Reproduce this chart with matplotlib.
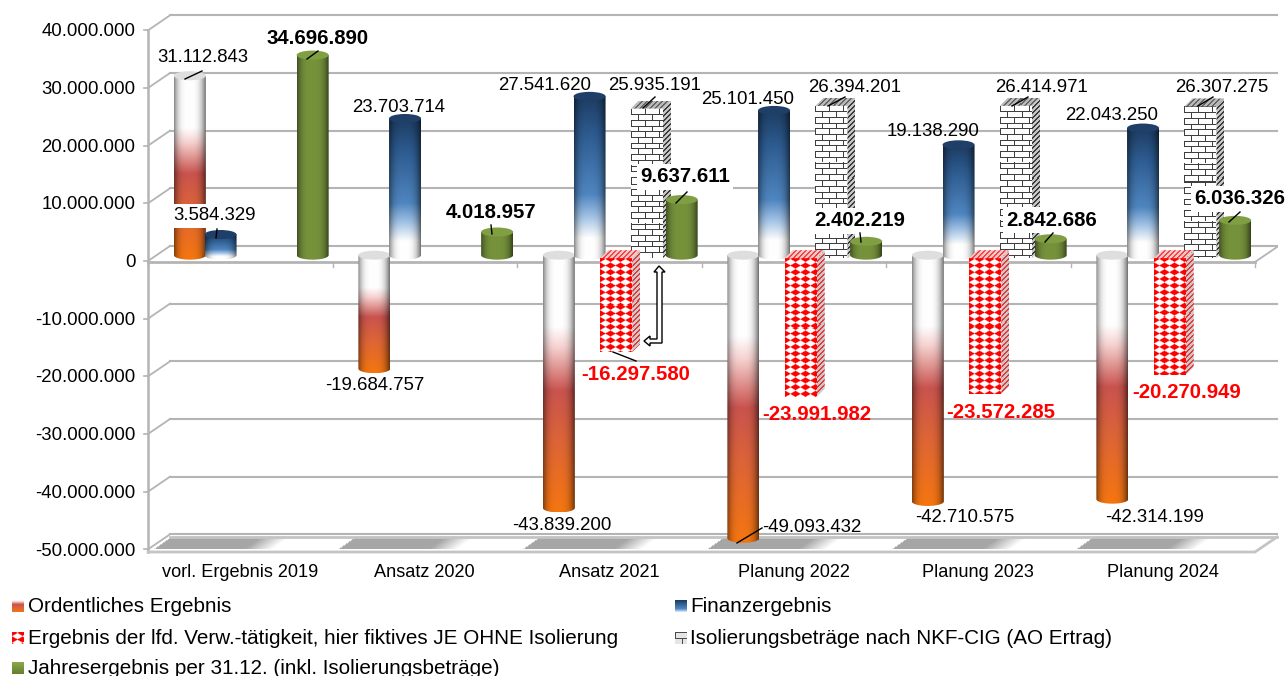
import numpy as np
import matplotlib
matplotlib.use("Agg")
import matplotlib.pyplot as plt
from matplotlib.patches import Polygon, Ellipse
from matplotlib.transforms import Affine2D
from matplotlib.ticker import FuncFormatter

plt.rcParams['font.family'] = ['Liberation Sans', 'DejaVu Sans']

W, H = 1286, 676

categories = ["vorl. Ergebnis 2019", "Ansatz 2020", "Ansatz 2021",
              "Planung 2022", "Planung 2023", "Planung 2024"]
ordentlich = [31112843, -19684757, -43839200, -49093432, -42710575, -42314199]
finanz = [3584329, 23703714, 27541620, 25101450, 19138290, 22043250]
verw = [None, None, -16297580, -23991982, -23572285, -20270949]
isolierung = [None, None, 25935191, 26394201, 26414971, 26307275]
jahres = [34696890, 4018957, 9637611, 2402219, 2842686, 6036326]

legend_names = ["Ordentliches Ergebnis", "Finanzergebnis",
                "Ergebnis der lfd. Verw.-tätigkeit, hier fiktives JE OHNE Isolierung",
                "Isolierungsbeträge nach NKF-CIG (AO Ertrag)",
                "Jahresergebnis per 31.12. (inkl. Isolierungsbeträge)"]

# label centre and optional leader line, all in pixels from the top left
ord_labels = [(203, 58, (185, 79, 202, 71)), (375, 386, None), (562, 525, None),
              (812, 528, (737, 543, 762, 528)), (965, 518, None), (1155, 517, None)]
fin_labels = [(215, 216, (216, 238, 217, 229)), (399, 107, None), (545, 85, None),
              (748, 99, None), (933, 132, None), (1112, 115, None)]
verw_labels = [None, None, (636, 375, (613, 352, 636, 361)), (817, 415, None),
               (1001, 413, None), (1187, 393, None)]
iso_labels = [None, None, (655, 85, (643, 108, 655, 97)), (855, 88, (828, 106, 845, 97)),
              (1042, 87, (1012, 106, 1028, 97)), (1222, 87, (1198, 106, 1213, 97))]
jahr_labels = [(318, 38, (307, 59, 318, 51)), (491, 212, (492, 234, 491, 225)),
               (685, 177, (676, 203, 687, 192)), (860, 221, (861, 242, 860, 233)),
               (1052, 220, (1045, 242, 1053, 233)), (1240, 199, (1229, 222, 1240, 212))]

# geometry of the fake 3d frame
LEFT, RIGHT, TOP, BOTTOM = 148, 1255, 30, 549
CAT_W = (RIGHT - LEFT) / 6
PX_Y = (BOTTOM - TOP) / 90e6
DEPTH_X, DEPTH_Y = 22, 15
STEP = 30.7
BAR_W = 32
GRID = "#b4b4b4"

fig = plt.figure(figsize=(W / 100, H / 100), dpi=100)
ax = fig.add_axes([LEFT / W, 1 - BOTTOM / H, (RIGHT - LEFT) / W, (BOTTOM - TOP) / H])
ax.set_xlim(0, 6)
ax.set_ylim(-50e6, 40e6)
for s in ax.spines.values():
    s.set_visible(False)
ax.patch.set_alpha(0)

pix = Affine2D().scale(1, -1).translate(0, H)


def dx(px):
    return (px - LEFT) / CAT_W


def dy(py):
    return (261 - py) / PX_Y


def vpx(v):
    return 261 - v * PX_Y


def rgb(hexcol):
    return np.array(matplotlib.colors.to_rgb(hexcol))


def ramp(stops, t):
    pos = [p for p, c in stops]
    cols = np.array([rgb(c) for p, c in stops])
    return np.stack([np.interp(t, pos, cols[:, k]) for k in range(3)], axis=-1)


def px_image(arr, x0, x1, y0, y1, clip_xy, z, interp="bilinear"):
    # place an rgb array over a pixel box and cut it to a polygon
    im = ax.imshow(arr, extent=(dx(x0), dx(x1), dy(y1), dy(y0)), aspect="auto",
                   origin="upper", interpolation=interp, zorder=z)
    poly = Polygon([(dx(a), dy(b)) for a, b in clip_xy], transform=ax.transData)
    im.set_clip_path(poly)
    return im


white_red = [(0, "#ffffff"), (.28, "#ffffff"), (.36, "#f6d2d0"), (.53, "#c9534e"),
             (.72, "#dc6438"), (1, "#f5760f")]
navy_white = [(0, "#1d3c62"), (.22, "#2c5a8e"), (.6, "#4f86c0"), (.74, "#a4c4e6"),
              (.87, "#ffffff"), (1, "#ffffff")]
green_flat = [(0, "#76933c"), (1, "#76933c")]
ELL = 4.5


def cylinder(i, s, value, stops, cap, z):
    cx = LEFT + CAT_W * (i + .5) + DEPTH_X / 2 + (s - 2) * STEP
    zero = 255.5
    end = zero - value * PX_Y
    top, bot = min(zero, end), max(zero, end)
    x0, x1 = cx - BAR_W / 2, cx + BAR_W / 2
    rows = int(bot - top + ELL * 2) + 2
    t = np.linspace(0, 1, rows)[:, None]
    u = np.linspace(-1, 1, 40)[None, :]
    shade = 1 - .45 * np.abs(u) ** 3.5 - .1 * np.clip(u, 0, 1) ** 2
    arr = ramp(stops, np.repeat(t, 40, axis=1)) * shade[..., None]
    th = np.linspace(0, np.pi, 30)
    outline = [(x0, top)] + [(cx - BAR_W / 2 * np.cos(a), bot + ELL * np.sin(a)) for a in th] + [(x1, top)]
    px_image(arr, x0, x1, top, bot + ELL, outline, z)
    e = Ellipse((dx(cx), dy(top)), BAR_W / CAT_W, 2 * ELL / PX_Y, facecolor=cap,
                edgecolor="none", zorder=z + .1)
    ax.add_patch(e)
    e.set_clip_on(False)


def brick(h, w):
    a = np.ones((h, w, 3))
    yy, xx = np.mgrid[0:h, 0:w]
    row = (yy / 5.7).astype(int)
    joint = ((xx + 7 * (row % 2)) % 14) < 1
    bed = (yy % 5.7) < 1
    a[joint | bed] = 0.25
    return a


def diamonds(h, w):
    yy, xx = np.mgrid[0:h, 0:w]
    ddx = ((xx + 5) % 10) - 5
    ddy = ((yy + 3) % 6.7) - 3.35
    d = np.abs(ddx) / 5.4 + np.abs(ddy) / 3.1
    a = np.clip((1.2 - d) / .45, 0, 1)[..., None]
    return np.ones((h, w, 3)) * (1 - a) + rgb("#ff0000") * a


def hatch(h, w, c1, c2):
    yy, xx = np.mgrid[0:h, 0:w]
    a = np.empty((h, w, 3))
    a[:] = rgb(c2)
    a[(xx + yy) % 5 < 2] = rgb(c1)
    return a


def box(i, s, value, pattern, side_cols, cap_cols, z):
    cx = LEFT + CAT_W * (i + .5) + DEPTH_X / 2 + (s - 2) * STEP - 4
    base = 258.5
    end = base - value * PX_Y
    top, bot = min(base, end), max(base, end)
    x0, x1 = cx - BAR_W / 2, cx + BAR_W / 2
    h, w = int(bot - top), BAR_W
    px_image(pattern(h, w), x0, x1, top, bot, [(x0, top), (x1, top), (x1, bot), (x0, bot)], z, "nearest")
    px_image(hatch(h + 8, 8, *side_cols), x1, x1 + 8, top - 8, bot,
             [(x1, top), (x1 + 8, top - 8), (x1 + 8, bot - 8), (x1, bot)], z + .1, "nearest")
    px_image(hatch(9, 40, *cap_cols), x0, x1 + 8, top - 8, top + 1,
             [(x0, top), (x0 + 8, top - 8), (x1 + 8, top - 8), (x1, top)], z + .2, "nearest")


def fmt(v):
    return f"{v:,}".replace(",", ".")


def value_label(value, spec, color="black", bold=False, boxed=False):
    if spec is None:
        return
    x, y, leader = spec
    if leader:
        ax.plot(leader[0::2], leader[1::2], color="black", lw=1, transform=pix,
                clip_on=False, zorder=60)
    kw = {}
    if boxed:
        kw["bbox"] = dict(facecolor="white", edgecolor="none", pad=2.5)
    ax.text(x, y, fmt(value), transform=pix, ha="center", va="center", color=color,
            fontsize=14.7 if bold else 13.4, fontweight="bold" if bold else "normal",
            clip_on=False, zorder=55 if boxed else 70, **kw)


# back wall, side wall and grid
for g in np.arange(-50e6, 40e6 + 1, 10e6):
    yf = vpx(g)
    ax.plot([LEFT, LEFT + DEPTH_X], [yf, yf - DEPTH_Y], color=GRID, lw=1.3, transform=pix, clip_on=False, zorder=1)
    ax.plot([LEFT + DEPTH_X, RIGHT + DEPTH_X], [yf - DEPTH_Y] * 2, color=GRID, lw=1.5, transform=pix, clip_on=False, zorder=1)
    ax.plot([LEFT - 4, LEFT], [yf, yf], color=GRID, lw=1.2, transform=pix, clip_on=False, zorder=1)
ax.plot([LEFT, LEFT], [TOP, BOTTOM + 3], color=GRID, lw=1.8, transform=pix, clip_on=False, zorder=2)

# floor with its slanted grey bands
fh, fw = 16, RIGHT + DEPTH_X - LEFT
yy, xx = np.mgrid[0:fh, 0:fw]
slant = (fh - yy) * DEPTH_X / DEPTH_Y
phase = (xx - slant) % CAT_W
amount = np.clip((118 - phase) / 28, 0, 1)
floor = np.ones((fh, fw, 3)) * (1 - amount[..., None]) + rgb("#a6a6a6") * amount[..., None]
fb = BOTTOM + 3
px_image(floor, LEFT, RIGHT + DEPTH_X, fb - DEPTH_Y, fb + 1,
         [(LEFT, fb), (LEFT + DEPTH_X, fb - DEPTH_Y), (RIGHT + DEPTH_X, fb - DEPTH_Y), (RIGHT, fb)], 2)
ax.plot([LEFT, RIGHT, RIGHT + DEPTH_X], [fb, fb, fb - DEPTH_Y], color="#c4c4c4", lw=2, transform=pix, clip_on=False, zorder=3)
ax.plot([LEFT + DEPTH_X, RIGHT + DEPTH_X], [fb - DEPTH_Y] * 2, color="#c4c4c4", lw=2, transform=pix, clip_on=False, zorder=3)

# zero plane
ax.plot([LEFT, RIGHT], [262, 262], color=GRID, lw=2, transform=pix, clip_on=False, zorder=3)
ax.plot([RIGHT, RIGHT + DEPTH_X], [262, 247], color=GRID, lw=1.3, transform=pix, clip_on=False, zorder=3)
for i in range(7):
    ax.plot([LEFT + CAT_W * i] * 2, [262, 267], color=GRID, lw=1, transform=pix, clip_on=False, zorder=3)

# series, one group at a time
for i in range(6):
    z = 10 + i * 5
    cylinder(i, 0, ordentlich[i], white_red, "#dedede", z)
    cylinder(i, 1, finanz[i], navy_white, "#1f3f68", z + .5)
    if verw[i] is not None:
        box(i, 2, verw[i], diamonds, ("#e8383a", "#c8c8c8"), ("#ff4040", "#eec8c8"), z + 1)
    if isolierung[i] is not None:
        box(i, 3, isolierung[i], brick, ("#3a3a3a", "#c4c4c4"), ("#666666", "#b8b8b8"), z + .7)
    cylinder(i, 4, jahres[i], green_flat, "#7f9f42", z + 2)

for i in range(6):
    value_label(ordentlich[i], ord_labels[i])
    value_label(finanz[i], fin_labels[i], boxed=(i == 0))
    if verw[i] is not None:
        value_label(verw[i], verw_labels[i], color="#ff0000", bold=True)
    if isolierung[i] is not None:
        value_label(isolierung[i], iso_labels[i])
    value_label(jahres[i], jahr_labels[i], bold=True, boxed=(i >= 2))

# hint arrow between the result bar and the annual result
arrow = [(659, 266), (665, 272), (662, 272), (662, 343), (650, 343), (650, 346), (644, 341),
         (650, 336), (650, 339), (657, 339), (657, 272), (654, 272)]
ax.add_patch(Polygon(arrow, closed=True, facecolor="white", edgecolor="black", lw=1,
                     transform=pix, clip_on=False, zorder=58))

# axes text
ax.set_yticks(np.arange(-50e6, 40e6 + 1, 10e6))
ax.yaxis.set_major_formatter(FuncFormatter(lambda v, p: fmt(int(round(v)))))
ax.set_xticks(np.arange(6) + .5)
ax.set_xticklabels(categories)
ax.tick_params(axis="y", length=0, pad=9, labelsize=13.4)
ax.tick_params(axis="x", length=0, pad=11, labelsize=13.1)
ax.set_xlim(0, 6)
ax.set_ylim(-50e6, 40e6)


# legend drawn by hand, with small samples of each fill
def swatch(kind):
    t = np.repeat(np.linspace(0, 1, 12)[:, None], 12, axis=1)
    if kind == "ord":
        return ramp(white_red, t * .65 + .3)
    if kind == "fin":
        return ramp(navy_white, t * .8)
    if kind == "verw":
        return diamonds(12, 12)
    if kind == "iso":
        return brick(12, 12) * .8 + .1
    return ramp([(0, "#8aa84a"), (1, "#668030")], t)


legend_rows = [(12, 28, 606, "ord"), (675, 690, 606, "fin"), (12, 28, 638, "verw"),
               (675, 690, 638, "iso"), (12, 28, 668, "jahr")]
for name, (sx, tx, ty, kind) in zip(legend_names, legend_rows):
    fig.figimage(np.clip(swatch(kind), 0, 1), xo=sx, yo=H - ty - 6, origin="upper", zorder=5)
    ax.text(tx, ty, name, transform=pix, ha="left", va="center", fontsize=14.85, clip_on=False, zorder=70)

fig.savefig("out.png", dpi=100, facecolor="white")
